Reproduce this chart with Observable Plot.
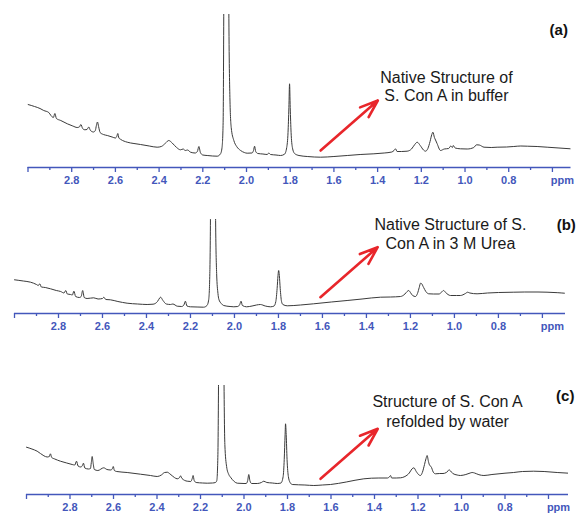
<!DOCTYPE html>
<html><head><meta charset="utf-8">
<script src="https://cdn.jsdelivr.net/npm/d3@7"></script>
<script src="https://cdn.jsdelivr.net/npm/@observablehq/plot@0.6"></script>
<style>
body{margin:0;background:#fff;}
#chart{width:577px;height:515px;overflow:hidden;}
#chart svg{display:block;}
</style>
</head><body><div id="chart"></div>
<script>
// ---- data: [chemical shift (ppm), intensity (a.u.)] ----
const spectrumA = [
[3.000,63],[2.970,61],[2.945,59],[2.928,57],[2.905,55],[2.895,52],[2.884,50],[2.877,54],[2.870,49],[2.850,47],
[2.820,43.7],[2.795,41.5],[2.775,40],[2.765,40.5],[2.758,43],[2.750,39],[2.740,37.7],[2.730,38],[2.722,40.5],[2.714,37],
[2.700,35.5],[2.692,37],[2.687,42],[2.682,45.5],[2.677,41],[2.670,35],[2.655,33],[2.637,32],[2.615,30.5],[2.600,29.5],
[2.594,31],[2.589,34],[2.584,29.5],[2.575,28],[2.546,25.3],[2.515,24],[2.485,23],[2.445,21.5],[2.409,20.3],[2.390,21],
[2.370,24.5],[2.356,27],[2.340,24.5],[2.320,20],[2.302,17.7],[2.290,18.5],[2.280,17],[2.270,17.5],[2.256,15.3],[2.235,14.5],
[2.225,16],[2.218,21],[2.211,15],[2.200,12.5],[2.180,12],[2.155,11.5],[2.134,11.3],[2.119,13.7],[2.112,20],[2.107,45],
[2.104,160],[2.099,500],[2.093,700],[2.086,500],[2.081,160],[2.076,70],[2.070,40],[2.058,27],[2.045,21],[2.027,17],
[2.010,15],[1.997,14.3],[1.975,14.5],[1.968,17],[1.963,21.3],[1.958,16],[1.948,14],[1.925,13.5],[1.905,13],[1.898,14.5],
[1.890,13],[1.865,12.5],[1.844,12],[1.826,13.3],[1.816,20],[1.810,35],[1.806,60],[1.803,83.7],[1.800,60],[1.796,35],
[1.790,20],[1.780,14],[1.760,12],[1.722,11],[1.690,10.5],[1.661,10.3],[1.600,11],[1.539,12],[1.480,13],[1.417,13.7],
[1.370,14.5],[1.335,15.5],[1.325,17],[1.318,18.7],[1.311,16],[1.290,16],[1.265,16.3],[1.245,18.5],[1.230,23],[1.219,25.3],
[1.205,22],[1.190,17.5],[1.181,16.3],[1.170,19],[1.160,26],[1.152,33],[1.147,35.3],[1.140,30],[1.135,27.5],[1.128,24],
[1.112,17],[1.095,18.5],[1.075,19],[1.065,21.5],[1.058,20],[1.054,22],[1.045,19.5],[1.021,18.7],[0.990,18.5],[0.960,20],
[0.947,22.7],[0.935,22.5],[0.913,20.3],[0.880,20],[0.853,20.3],[0.810,20.5],[0.777,21],[0.745,21.5],[0.715,21.3],[0.670,21],
[0.624,20.3],[0.570,19.5],[0.517,18.7],[0.500,18.5]
];
const spectrumB = [
[3.000,33.7],[2.960,32.5],[2.927,31.3],[2.900,29],[2.892,28],[2.885,29.7],[2.878,26.5],[2.860,26],[2.836,24.7],[2.810,23],
[2.790,22],[2.775,20.5],[2.767,23],[2.760,19.5],[2.745,19],[2.737,18.5],[2.730,22.3],[2.722,17],[2.705,16],[2.697,17],
[2.690,23],[2.683,16],[2.670,15],[2.640,15.7],[2.620,14.5],[2.600,15],[2.594,16.3],[2.585,14],[2.564,13.7],[2.530,12],
[2.488,10.3],[2.440,9.5],[2.397,9],[2.370,9.3],[2.350,12],[2.340,15.5],[2.336,16.3],[2.325,13],[2.310,9.5],[2.291,9],
[2.280,9.5],[2.260,7.3],[2.240,7],[2.230,8.5],[2.223,12.3],[2.216,7.5],[2.200,6.7],[2.170,6.5],[2.140,6.3],[2.125,8],
[2.117,14],[2.112,40],[2.109,100],[2.104,400],[2.098,500],[2.092,400],[2.086,100],[2.081,40],[2.075,20],[2.071,14.3],
[2.060,10],[2.049,8],[2.020,7],[2.003,6.7],[1.985,7],[1.976,9],[1.970,12.3],[1.964,8],[1.945,6.7],[1.920,7.5],
[1.900,8.5],[1.882,9],[1.860,7.5],[1.836,6.7],[1.820,7.5],[1.812,12],[1.806,25],[1.802,38],[1.799,43],[1.796,38],
[1.792,25],[1.786,12],[1.780,9],[1.760,7.7],[1.700,8.5],[1.640,9.7],[1.560,11.5],[1.488,13],[1.420,14.5],[1.336,16.3],
[1.290,16.5],[1.245,17],[1.225,19.5],[1.215,22],[1.208,23],[1.200,21],[1.190,18],[1.177,17],[1.168,20],[1.160,26],
[1.154,30.3],[1.150,30],[1.140,26],[1.130,22],[1.117,19.7],[1.095,19.5],[1.070,19.5],[1.058,21.5],[1.049,23],[1.040,21],
[1.018,18],[0.990,18],[0.973,18],[0.950,20],[0.940,21.3],[0.930,20.5],[0.897,19.7],[0.850,20.5],[0.800,21],[0.730,21.3],
[0.680,21.5],[0.620,21.5],[0.579,21.3],[0.530,20.8],[0.500,20.3]
];
const spectrumC = [
[3.000,47.3],[2.975,45.5],[2.951,43.3],[2.920,38.7],[2.905,37.5],[2.895,38],[2.890,40.7],[2.884,37],[2.870,35.5],[2.844,33.3],
[2.815,31.5],[2.790,30],[2.778,29.5],[2.770,33.3],[2.763,28.5],[2.750,27.5],[2.743,29],[2.738,31.3],[2.732,26.5],[2.715,25.5],
[2.706,26],[2.702,32],[2.698,38],[2.694,32],[2.688,25],[2.672,24],[2.645,26.7],[2.630,25],[2.612,24.5],[2.605,26],
[2.601,28],[2.596,24],[2.585,23],[2.537,22],[2.476,20.3],[2.430,19],[2.399,18],[2.380,19.5],[2.365,22],[2.353,22.3],
[2.340,20.5],[2.320,17],[2.307,15.7],[2.296,17],[2.292,18.7],[2.285,16],[2.261,13.3],[2.245,13],[2.238,16],[2.234,19],
[2.229,14],[2.220,12],[2.190,11.5],[2.169,11.3],[2.145,11.5],[2.131,12],[2.125,14],[2.120,40],[2.116,150],[2.110,400],
[2.104,500],[2.098,400],[2.093,150],[2.088,50],[2.080,28],[2.070,20],[2.062,17.3],[2.045,13],[2.031,11.3],[2.000,11],
[1.990,11],[1.983,14],[1.978,20],[1.973,14],[1.965,11],[1.939,11],[1.920,12],[1.909,13.3],[1.895,12],[1.870,11.5],
[1.847,11],[1.830,11.5],[1.820,18],[1.815,35],[1.811,60],[1.809,70.7],[1.806,60],[1.802,35],[1.796,18],[1.788,12],
[1.778,10],[1.720,9.5],[1.679,9],[1.640,9.5],[1.602,10],[1.530,12.5],[1.449,15.7],[1.380,16.5],[1.340,16.5],[1.330,18],
[1.326,19],[1.321,16.5],[1.300,16.5],[1.280,16.7],[1.260,18],[1.240,21.5],[1.228,25.5],[1.219,26.7],[1.208,23],[1.195,19.5],
[1.189,19],[1.180,22],[1.170,30],[1.163,36],[1.158,39],[1.152,33],[1.146,29],[1.140,28],[1.130,22.5],[1.120,20.7],
[1.100,21],[1.085,21],[1.070,22],[1.062,23.5],[1.058,24.7],[1.050,23.5],[1.040,21],[1.020,19.5],[1.005,19],[0.980,20],
[0.960,21.5],[0.951,22],[0.940,21.5],[0.920,19.8],[0.897,19],[0.860,20],[0.800,21.3],[0.760,22],[0.720,23],[0.668,23.3],
[0.620,23],[0.560,22],[0.507,21.3],[0.500,21.2]
];
const majorTicks = [3.0,2.8,2.6,2.4,2.2,2.0,1.8,1.6,1.4,1.2,1.0,0.8,0.6];
const majorTickLabels = ["","2.8","2.6","2.4","2.2","2.0","1.8","1.6","1.4","1.2","1.0","0.8",""];
const minorTicks = [2.9,2.7,2.5,2.3,2.1,1.9,1.7,1.5,1.3,1.1,0.9,0.7];
const unitLabel = "ppm";
const unitTick = 0.6;
const panelLabels = ["(a)","(b)","(c)"];
const annotations = [
  ["Native Structure of","S. Con A in buffer"],
  ["Native Structure of S.","Con A in 3 M Urea"],
  ["Structure of S. Con A","refolded by water"]
];
const spectra = [spectrumA, spectrumB, spectrumC];

// ---- layout (positions in ppm / intensity units) ----
const layout = [
  {height:190, mt:14, mb:23, ml:27.5, mr:6.5, xEnd:0.515, yTop:153,
   arrow:{x1:1.661,y1:17,x2:1.399,y2:67}, textX:1.085, textY:[85,67], labelX:0.613, labelY:133},
  {height:145, mt:29, mb:22, ml:14, mr:12, xEnd:0.495, yTop:94,
   arrow:{x1:1.609,y1:16.3,x2:1.349,y2:66.3}, textX:1.018, textY:[84,65], labelX:0.535, labelY:84},
  {height:180, mt:50, mb:21, ml:26, mr:9, xEnd:0.508, yTop:109,
   arrow:{x1:1.648,y1:15.7,x2:1.385,y2:65.7}, textX:1.064, textY:[87.3,68], labelX:0.565, labelY:94}
];

const axisBlue = "#4357bb";
const font = "Liberation Sans, Arial, sans-serif";
const root = document.getElementById("chart");

layout.forEach((L, i) => {
  const lines = annotations[i].map((t, k) => ({t, y: L.textY[k]}));
  const svg = Plot.plot({
    width: 577,
    height: L.height,
    marginTop: L.mt, marginBottom: L.mb, marginLeft: L.ml, marginRight: L.mr,
    style: {fontFamily: font, background: "white", overflow: "visible"},
    x: {type: "linear", domain: [3.0, L.xEnd], axis: null},
    y: {type: "linear", domain: [0, L.yTop], axis: null},
    marks: [
      Plot.line(spectra[i], {x: d => d[0], y: d => d[1], stroke: "#3a3a3a", strokeWidth: 1, curve: "monotone-x", clip: true}),
      Plot.ruleY([0], {stroke: axisBlue, strokeWidth: 1.5}),
      Plot.axisX({ticks: minorTicks, tickSize: 3, tickFormat: () => "", stroke: axisBlue, strokeWidth: 1.3}),
      Plot.axisX({ticks: majorTicks, tickSize: 5, tickPadding: 4, tickFormat: (d, k) => majorTickLabels[k],
        stroke: axisBlue, fill: axisBlue, strokeWidth: 1.3, fontSize: 11, fontWeight: "bold"}),
      Plot.text([unitLabel], {x: () => unitTick, y: () => 0, text: d => d, dx: 10, dy: 9, lineAnchor: "top",
        fill: axisBlue, fontSize: 11, fontWeight: "bold"}),
      Plot.arrow([L.arrow], {x1: "x1", y1: "y1", x2: "x2", y2: "y2", stroke: "#e8262b", strokeWidth: 2.6,
        headLength: 11, headAngle: 40}),
      Plot.text(lines, {x: () => L.textX, y: "y", text: "t", lineAnchor: "bottom", fontSize: 16, fill: "#1a1a1a"}),
      Plot.text([panelLabels[i]], {x: () => L.labelX, y: () => L.labelY, text: d => d, textAnchor: "start", lineAnchor: "bottom",
        fontSize: 15, fontWeight: "bold", fill: "#111"})
    ]
  });
  root.appendChild(svg);
});
</script>
</body></html>
